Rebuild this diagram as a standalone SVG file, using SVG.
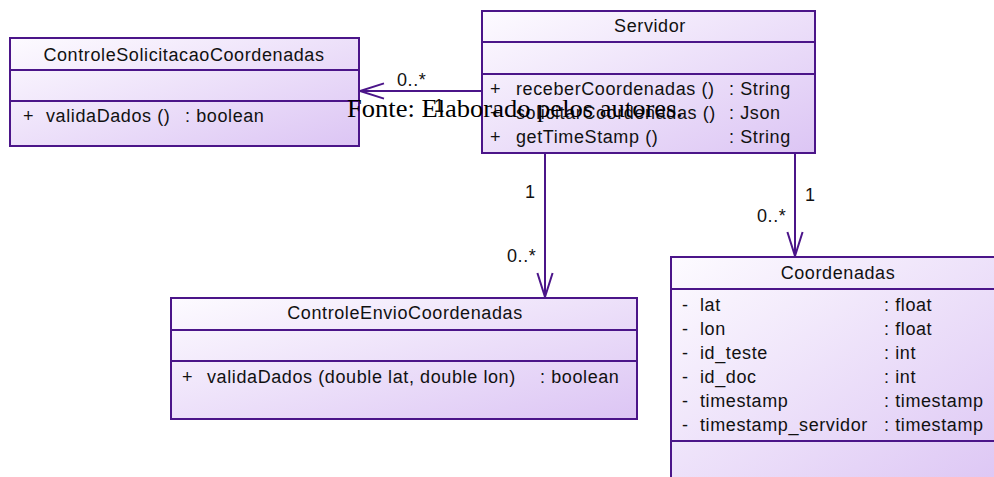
<svg xmlns="http://www.w3.org/2000/svg" width="994" height="477" viewBox="0 0 994 477">
  <defs>
    <linearGradient id="classFill" x1="0" y1="0" x2="1" y2="1">
      <stop offset="0" stop-color="#fdfbff"/>
      <stop offset="1" stop-color="#dcc5f4"/>
    </linearGradient>
    <marker id="openArrow" markerUnits="userSpaceOnUse" markerWidth="30" markerHeight="20" refX="25" refY="9" orient="auto">
      <path d="M1 1.4 L25 9 L1 16.6" fill="none" stroke="#4b1589" stroke-width="2"/>
    </marker>
  </defs>
  <style>
    .box{fill:url(#classFill);stroke:#4b1589;stroke-width:2}
    .sep{stroke:#4b1589;stroke-width:2}
    .t{font-family:"Liberation Sans",Arial,sans-serif;font-size:18px;letter-spacing:0.6px;fill:#111111}
    .c{text-anchor:middle}
    .conn{stroke:#4b1589;stroke-width:2;fill:none}
    .caption{font-family:"Liberation Serif","Times New Roman",serif;font-size:26px;fill:#000}
  </style>

  <rect width="994" height="477" fill="#ffffff"/>

  <!-- associations -->
  <g id="connectors">
    <line class="conn" x1="482" y1="91" x2="360" y2="91" marker-end="url(#openArrow)"/>
    <line class="conn" x1="545" y1="153" x2="545" y2="297" marker-end="url(#openArrow)"/>
    <line class="conn" x1="795" y1="153" x2="795" y2="256" marker-end="url(#openArrow)"/>
    <text class="t" x="397" y="86">0..*</text>
    <text class="t" x="434" y="112">1</text>
    <text class="t" x="525" y="198">1</text>
    <text class="t" x="507" y="262">0..*</text>
    <text class="t" x="805" y="201">1</text>
    <text class="t" x="757" y="222">0..*</text>
  </g>

  <g id="ControleSolicitacaoCoordenadas">
    <rect class="box" x="10" y="38" width="349" height="108"/>
    <line class="sep" x1="10" y1="70" x2="359" y2="70"/>
    <line class="sep" x1="10" y1="101" x2="359" y2="101"/>
    <text class="t c" x="184" y="61">ControleSolicitacaoCoordenadas</text>
    <text class="t" x="23" y="122">+</text>
    <text class="t" x="46" y="122">validaDados ()</text>
    <text class="t" x="185" y="122">: boolean</text>
  </g>

  <g id="Servidor">
    <rect class="box" x="482" y="11" width="333" height="142"/>
    <line class="sep" x1="482" y1="42" x2="815" y2="42"/>
    <line class="sep" x1="482" y1="74" x2="815" y2="74"/>
    <text class="t c" x="650" y="32">Servidor</text>
    <text class="t" x="490" y="95">+</text>
    <text class="t" x="516" y="95">receberCoordenadas ()</text>
    <text class="t" x="729" y="95">: String</text>
    <text class="t" x="490" y="119">+</text>
    <text class="t" x="516" y="119">solicitarCoordenadas ()</text>
    <text class="t" x="729" y="119">: Json</text>
    <text class="t" x="490" y="143">+</text>
    <text class="t" x="516" y="143">getTimeStamp ()</text>
    <text class="t" x="729" y="143">: String</text>
  </g>

  <g id="ControleEnvioCoordenadas">
    <rect class="box" x="171" y="298" width="466" height="121"/>
    <line class="sep" x1="171" y1="330" x2="637" y2="330"/>
    <line class="sep" x1="171" y1="361" x2="637" y2="361"/>
    <text class="t c" x="405" y="319">ControleEnvioCoordenadas</text>
    <text class="t" x="182" y="383">+</text>
    <text class="t" x="207" y="383">validaDados (double lat, double lon)</text>
    <text class="t" x="540" y="383">: boolean</text>
  </g>

  <g id="Coordenadas">
    <rect class="box" x="671" y="257" width="340" height="232"/>
    <line class="sep" x1="671" y1="289" x2="1011" y2="289"/>
    <line class="sep" x1="671" y1="441" x2="1011" y2="441"/>
    <text class="t c" x="838" y="279">Coordenadas</text>
    <g class="t">
      <text x="682" y="311">-</text><text x="700" y="311">lat</text><text x="884" y="311">: float</text>
      <text x="682" y="335">-</text><text x="700" y="335">lon</text><text x="884" y="335">: float</text>
      <text x="682" y="359">-</text><text x="700" y="359">id_teste</text><text x="884" y="359">: int</text>
      <text x="682" y="383">-</text><text x="700" y="383">id_doc</text><text x="884" y="383">: int</text>
      <text x="682" y="407">-</text><text x="700" y="407">timestamp</text><text x="884" y="407">: timestamp</text>
      <text x="682" y="431">-</text><text x="700" y="431">timestamp_servidor</text><text x="884" y="431">: timestamp</text>
    </g>
  </g>

  <!-- caption text printed across the figure -->
  <text class="caption" x="347" y="117" textLength="336" lengthAdjust="spacingAndGlyphs">Fonte: Elaborado pelos autores.</text>
</svg>
